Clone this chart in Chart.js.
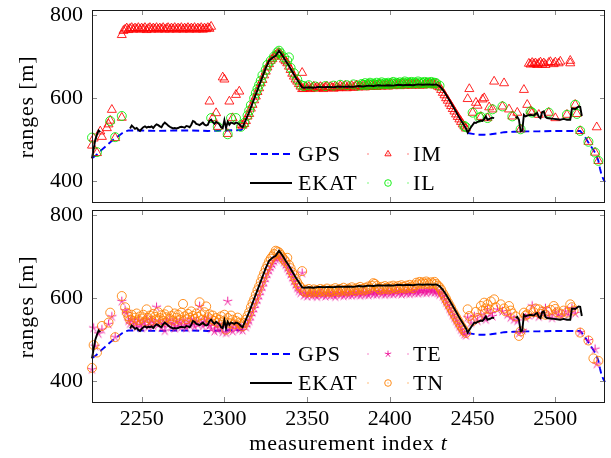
<!DOCTYPE html>
<html><head><meta charset="utf-8">
<script src="https://cdn.jsdelivr.net/npm/chart.js@4.4.0/dist/chart.umd.min.js"></script>
<style>
html,body{margin:0;padding:0;background:#fff;}
#wrap{position:relative;width:611px;height:458px;}
canvas{position:absolute;left:0;top:0;}
#pre{position:absolute;left:0;top:0;font-family:'Liberation Serif';font-size:22px;color:#fff;opacity:0;}
</style></head><body>
<div id="pre">Ab12 <i>t</i></div>
<div id="wrap"><canvas id="c1" width="611" height="458"></canvas><canvas id="c2" width="611" height="458"></canvas></div>
<script>
// ---------------- data ----------------
const xTicks = [2250, 2300, 2350, 2400, 2450, 2500];
const yTicks = [400, 600, 800];
const xMin = 2220, xMax = 2530, yMin = 350, yMax = 812;

const gpsPts = [[2220,455],[2222,461],[2224,468],[2226,476],[2228,483],[2230,490],[2232,497],[2234,503],[2236,509],[2238,515],[2240,520],[2242,522],[2250,522],[2260,521],[2270,522],[2280,522],[2290,521],[2300,522],[2310,523],[2311,526],[2312,null],
[2447,516],[2450,514],[2453,512],[2457,512],[2461,513],[2465,515],[2469,518],[2475,519],[2483,520],[2490,520],[2500,521],[2511,521],[2515,521],[2517,512],[2519,499],[2521,487],[2523,475],[2524,469],[2525,460],[2526,449],[2527,430],[2528,414],[2529,405],[2530,398]];

const ekatPts = [[2220,455],[2221,478],[2222,500],[2223,512],[2224,522],[2225,518],[2226,null],
[2243,527],[2244,534],[2245,530],[2246,526],[2247,528],[2248,524],[2249,521],[2250,526],[2251,530],[2252,532],[2253,529],[2254,531],[2255,530],[2256,532],[2257,528],[2258,533],[2259,537],[2260,535],[2261,532],[2262,530],[2263,537],[2264,541],[2265,538],[2266,534],[2267,531],[2268,529],[2269,527],[2270,528],[2271,527],[2272,528],[2273,530],[2274,531],[2275,530],[2276,529],[2277,533],[2278,532],[2279,530],[2280,536],[2281,545],[2282,543],[2283,538],[2284,537],[2285,535],[2286,538],[2287,541],[2288,536],[2289,534],[2290,536],[2291,545],[2292,548],[2293,542],[2294,538],[2295,543],[2296,540],[2297,537],[2298,530],[2299,528],[2300,547],[2301,528],[2302,543],[2303,536],[2304,541],[2305,540],[2306,538],[2307,541],[2308,540],[2309,537],[2310,533],[2311,530],
[2313,548],[2315,567],[2317,588],[2319,609],[2321,630],[2323,651],[2325,672],[2327,690],[2329,697],[2331,702],[2333,714],[2335,703],[2337,690],[2339,678],[2341,664],[2343,650],[2345,638],[2347,626],
[2348,625],[2351,626],[2354,625],[2357,627],[2360,626],[2363,627],[2366,626],[2369,628],[2372,627],[2375,628],[2378,627],[2381,629],[2384,628],[2387,630],[2390,629],[2393,631],[2396,630],[2399,631],[2402,630],[2405,632],[2408,631],[2411,632],[2414,631],[2417,633],[2420,632],[2423,633],[2426,632],[2428,633],[2430,629],
[2432,620],[2434,608],[2436,595],[2438,581],[2440,567],[2442,553],[2444,540],[2446,527],[2447,517],
[2449,530],[2451,541],[2452,540],[2453,543],[2455,546],[2456,545],[2457,550],[2458,556],[2459,548],[2461,551],[2462,553],[2463,552],[2464,null],
[2476,552],[2477,555],[2478,548],[2479,520],[2480,522],[2481,560],[2482,556],[2483,558],[2485,560],[2487,558],[2488,562],[2489,564],[2490,555],[2491,552],[2492,566],[2493,568],[2494,555],[2495,552],[2497,551],[2499,550],[2501,549],[2503,548],[2505,550],[2507,548],[2509,548],[2510,575],[2512,574],[2514,580],[2515,579],[2516,557]];

const imPts = [[2220,486],[2221,503],[2223,468],[2225,520],[2226,507],[2229,528],[2230,537],[2231,546],[2232,572],[2234,504],[2238,553],
[2238,752],[2239,762],[2240,765],[2241,768],[2242,764],[2243,767],[2244,769],[2245,765],[2246,768],[2247,766],[2248,769],[2249,765],[2250,768],[2251,766],[2252,769],[2253,764],[2254,767],[2255,769],[2256,765],[2257,768],[2258,766],[2259,769],[2260,765],[2261,768],[2262,766],[2263,769],[2264,765],[2265,767],[2266,769],[2267,765],[2268,768],[2269,766],[2270,769],[2271,765],[2272,768],[2273,766],[2274,769],[2275,765],[2276,768],[2277,766],[2278,769],[2279,765],[2280,768],[2281,766],[2282,769],[2283,765],[2284,768],[2285,766],[2286,769],[2287,765],[2288,768],[2289,766],[2290,769],[2291,767],[2292,772],
[2291,592],[2293,552],[2295,564],[2296,531],[2299,650],[2300,645],[2302,514],[2303,592],[2305,552],[2307,608],[2309,616],[2310,535],[2311,534],
[2312,538],[2313,545],[2314,556],[2315,562],[2316,575],[2317,584],[2318,595],[2319,604],[2320,615],[2321,624],[2322,636],[2323,644],[2324,655],[2325,664],[2326,674],[2327,682],[2328,690],[2329,694],[2330,700],[2331,703],[2332,707],[2333,709],[2334,706],[2335,700],[2336,693],[2337,689],[2338,684],[2339,676],[2340,668],[2341,659],[2342,652],[2343,645],[2344,640],[2345,634],
[2346,628],[2347,661],[2347,622],[2348,623],[2349,626],[2350,624],[2351,627],[2352,622],[2353,625],[2354,628],[2355,623],[2356,626],[2357,624],[2358,627],[2359,625],[2360,622],[2361,626],[2362,628],[2363,624],[2364,627],[2365,625],[2366,623],[2367,628],[2368,626],[2369,624],[2370,629],[2371,625],[2372,627],[2373,630],[2374,624],[2375,628],[2376,626],[2377,629],[2378,625],[2379,628],[2380,631],[2381,626],[2382,629],[2383,627],[2384,630],[2385,626],[2386,629],[2387,632],[2388,627],[2389,630],[2390,628],[2391,631],[2392,627],[2393,630],[2394,633],[2395,628],[2396,631],[2397,629],[2398,632],[2399,628],[2400,631],[2401,634],[2402,629],[2403,632],[2404,630],[2405,633],[2406,629],[2407,632],[2408,635],[2409,630],[2410,633],[2411,631],[2412,634],[2413,630],[2414,633],[2415,631],[2416,634],[2417,632],[2418,630],[2419,634],[2420,631],[2421,633],[2422,636],[2423,631],[2424,634],[2425,632],[2426,635],[2427,631],[2428,633],[2429,628],
[2430,626],[2431,620],[2432,613],[2433,607],[2434,600],[2435,594],[2436,587],[2437,581],[2438,574],[2439,568],[2440,561],[2441,555],[2442,549],[2443,543],[2444,537],[2445,532],[2446,527],
[2447,598],[2448,622],[2450,565],[2452,589],[2453,582],[2455,555],[2456,597],[2457,600],[2459,552],[2460,578],[2462,573],[2463,640],[2468,580],[2469,636],[2472,573],[2474,556],[2477,565],[2479,525],[2481,620],[2483,584],[2485,568],[2486,565],[2490,560],[2496,565],[2500,552],[2507,560],[2512,584],[2513,562],[2515,521],[2520,495],[2524,469],[2525,530],[2526,449],
[2484,683],[2485,681],[2486,685],[2487,682],[2488,684],[2489,680],[2490,683],[2491,686],[2492,681],[2493,684],[2494,680],[2496,685],[2497,687],[2499,682],[2500,686],[2502,684],[2503,688],[2509,690],[2509,684]];

const ilPts = [[2220,505],[2223,470],[2231,545],[2234,506],[2238,557],
[2292,552],[2296,531],[2302,513],[2304,552],[2307,552],[2310,531],
[2312,540],[2314,558],[2315,570],[2316,583],[2318,600],[2319,612],[2320,622],[2321,632],[2322,642],[2323,655],[2325,668],[2326,680],[2328,690],[2330,700],[2332,710],[2333,714],[2334,708],[2336,698],[2338,690],[2339,698],[2340,673],[2342,660],[2344,645],[2346,632],
[2348,629],[2351,631],[2355,628],[2361,629],[2366,630],[2370,632],[2374,631],[2378,633],[2381,630],[2383,634],[2384,632],[2385,636],[2386,631],[2387,634],[2388,637],[2389,632],[2390,635],[2391,633],[2392,637],[2393,632],[2394,635],[2395,638],[2396,633],[2397,636],[2398,634],[2399,637],[2400,633],[2401,636],[2402,639],[2403,634],[2404,637],[2405,635],[2406,638],[2407,634],[2408,637],[2409,640],[2410,635],[2411,638],[2412,636],[2413,639],[2414,635],[2415,638],[2416,636],[2417,640],[2418,635],[2419,638],[2420,636],[2421,639],[2422,635],[2423,638],[2424,636],[2425,639],[2426,635],[2427,637],[2428,636],
[2430,630],[2445,533],
[2446,530],[2450,565],[2454,553],[2455,555],[2459,552],[2462,573],[2468,580],[2474,556],[2479,525],[2485,568],[2486,565],[2496,565],[2507,560],[2512,584],[2513,562],[2515,521],[2520,495],[2524,469],[2526,449]];

const tePts = [[2220,428],[2221,528],[2222,484],[2224,514],[2226,524],[2230,537],[2232,555],[2234,506],[2238,592],
[2240,570],[2241,563],[2242,545],[2243,538],[2244,548],[2245,533],[2246,541],[2247,530],[2248,546],[2249,536],[2250,528],[2251,543],[2252,534],[2253,549],[2254,531],[2255,540],[2256,546],[2257,533],[2258,541],[2259,578],[2260,536],[2261,545],[2262,529],[2263,538],[2264,521],[2265,543],[2266,535],[2267,548],[2268,530],[2269,539],[2270,527],[2271,544],[2272,533],[2273,541],[2274,530],[2275,547],[2276,536],[2277,528],[2278,543],[2279,535],[2280,549],[2281,538],[2282,531],[2283,545],[2284,536],[2285,580],[2286,541],[2287,532],[2288,547],[2289,539],[2290,552],[2291,534],[2292,526],[2293,540],[2294,520],[2295,532],[2296,523],[2297,538],[2298,528],[2299,518],[2300,535],[2301,516],[2302,592],[2303,525],[2304,531],[2305,520],[2306,536],[2307,527],[2308,533],[2309,524],[2310,529],[2311,522],
[2313,530],[2314,538],[2315,545],[2316,556],[2317,565],[2318,575],[2319,586],[2320,596],[2321,606],[2322,617],[2323,627],[2324,638],[2325,648],[2326,658],[2327,666],[2328,674],[2329,681],[2330,688],[2331,694],[2332,698],[2333,700],[2334,697],[2335,692],[2336,686],[2337,680],[2338,672],[2339,665],[2340,657],[2341,649],[2342,640],[2343,632],[2344,624],[2345,617],[2346,612],[2347,660],
[2348,606],[2349,610],[2350,604],[2351,609],[2352,612],[2353,605],[2354,610],[2355,607],[2356,603],[2357,609],[2358,612],[2359,606],[2360,610],[2361,604],[2362,608],[2363,612],[2364,606],[2365,610],[2366,607],[2367,603],[2368,609],[2369,613],[2370,607],[2371,611],[2372,605],[2373,609],[2374,613],[2375,607],[2376,611],[2377,606],[2378,610],[2379,614],[2380,608],[2381,612],[2382,606],[2383,610],[2384,614],[2385,608],[2386,612],[2387,607],[2388,611],[2389,615],[2390,609],[2391,613],[2392,608],[2393,612],[2394,616],[2395,610],[2396,614],[2397,608],[2398,612],[2399,616],[2400,610],[2401,614],[2402,609],[2403,613],[2404,617],[2405,611],[2406,615],[2407,609],[2408,613],[2409,617],[2410,611],[2411,615],[2412,610],[2413,614],[2414,618],[2415,612],[2416,616],[2417,611],[2418,615],[2419,619],[2420,613],[2421,617],[2422,612],[2423,616],[2424,620],[2425,614],[2426,618],[2427,613],[2428,617],[2429,612],[2430,608],
[2431,612],[2432,604],[2433,597],[2434,589],[2435,582],[2436,574],[2437,567],[2438,559],[2439,552],[2440,545],[2441,538],[2442,531],[2443,524],[2444,518],[2445,513],[2446,510],
[2447,553],[2449,540],[2451,556],[2453,545],[2455,560],[2457,553],[2458,548],[2459,570],[2461,563],[2462,556],[2465,572],[2468,568],[2471,560],[2473,553],[2475,548],[2477,545],[2478,515],[2480,522],[2482,552],[2484,558],[2486,581],[2488,560],[2490,555],[2492,563],[2494,575],[2496,558],[2498,552],[2500,566],[2502,560],[2504,556],[2506,568],[2508,560],[2510,575],[2512,563],[2515,517],[2520,498],[2524,477],[2525,441]];

const tnPts = [[2220,432],[2221,487],[2223,469],[2226,533],[2230,541],[2231,565],[2234,506],[2238,605],[2240,578],[2241,565],
[2242,556],[2243,548],[2244,560],[2245,545],[2246,553],[2247,563],[2248,547],[2249,556],[2250,551],[2251,560],[2252,544],[2253,573],[2254,552],[2255,558],[2256,546],[2257,562],[2258,555],[2259,549],[2260,566],[2261,552],[2262,559],[2263,545],[2264,561],[2265,554],[2266,570],[2267,550],[2268,557],[2269,546],[2270,563],[2271,553],[2272,560],[2273,548],[2274,565],[2275,586],[2276,556],[2277,549],[2278,562],[2279,553],[2280,568],[2281,557],[2282,550],[2283,563],[2284,555],[2285,590],[2286,559],[2287,548],[2288,566],[2289,580],[2290,554],[2291,561],[2292,549],[2293,558],[2294,545],[2295,552],[2296,541],[2297,548],[2298,556],[2299,544],[2300,560],[2301,524],[2302,552],[2303,540],[2304,558],[2305,548],[2306,537],[2307,545],[2308,553],[2309,541],[2310,538],[2311,532],
[2312,540],[2313,548],[2314,557],[2315,566],[2316,578],[2317,588],[2318,597],[2319,608],[2320,619],[2321,628],[2322,639],[2323,650],[2324,660],[2325,670],[2326,679],[2327,688],[2328,695],[2329,700],[2330,706],[2331,714],[2332,712],[2333,710],[2334,704],[2335,698],[2336,693],[2337,688],[2338,697],[2339,680],[2340,672],[2341,662],[2342,655],[2343,646],[2344,638],[2345,631],[2346,626],[2347,665],
[2348,616],[2349,620],[2350,614],[2351,622],[2352,617],[2353,613],[2354,621],[2355,616],[2356,619],[2357,614],[2358,622],[2359,617],[2360,620],[2361,615],[2362,623],[2363,618],[2364,614],[2365,621],[2366,617],[2367,624],[2368,619],[2369,615],[2370,622],[2371,618],[2372,625],[2373,620],[2374,616],[2375,623],[2376,619],[2377,626],[2378,621],[2379,617],[2380,624],[2381,620],[2382,627],[2383,622],[2384,618],[2385,625],[2386,621],[2387,628],[2388,623],[2389,630],[2390,636],[2391,634],[2392,629],[2393,624],[2394,620],[2395,627],[2396,622],[2397,629],[2398,625],[2399,621],[2400,628],[2401,623],[2402,630],[2403,626],[2404,622],[2405,629],[2406,624],[2407,631],[2408,627],[2409,623],[2410,630],[2411,625],[2412,632],[2413,628],[2414,624],[2415,631],[2416,637],[2417,633],[2418,639],[2419,635],[2420,638],[2421,634],[2422,640],[2423,636],[2424,633],[2425,638],[2426,635],[2427,639],[2428,634],[2429,630],[2430,626],
[2431,620],[2432,612],[2433,605],[2434,598],[2435,590],[2436,583],[2437,576],[2438,568],[2439,561],[2440,554],[2441,547],[2442,540],[2443,533],[2444,527],[2445,521],[2446,516],
[2447,573],[2448,557],[2450,545],[2452,567],[2453,552],[2455,581],[2456,570],[2457,589],[2458,575],[2459,585],[2460,573],[2461,592],[2463,597],[2464,578],[2467,585],[2469,575],[2470,568],[2472,581],[2473,570],[2474,563],[2476,556],[2478,509],[2479,520],[2481,565],[2482,558],[2483,561],[2485,572],[2487,566],[2488,575],[2490,573],[2491,562],[2492,568],[2494,560],[2495,569],[2497,572],[2499,581],[2500,574],[2501,566],[2503,563],[2505,570],[2507,565],[2509,585],[2510,578],[2511,570],[2515,517],[2520,498],[2523,455],[2526,449]];

// ---------------- rendering ----------------
const FONT = '"Liberation Serif", "Times New Roman", serif';
const FSIZE = 22;
const COL = {gps:'#0000ff', ekat:'#000000', im:'#ff0000', il:'#00ee00', te:'#ee1199', tn:'#ff8000'};

function toXY(a){ return a.map(p => ({x:p[0], y:p[1]})); }

function starImg(color, r){
  const s = Math.ceil(2*r+3), c = document.createElement('canvas');
  c.width = c.height = s;
  const g = c.getContext('2d'); g.strokeStyle = color; g.lineWidth = 0.9;
  g.beginPath();
  for (let k=0;k<5;k++){ const a=-Math.PI/2+k*2*Math.PI/5; g.moveTo(s/2,s/2); g.lineTo(s/2+r*Math.cos(a), s/2+r*Math.sin(a)); }
  g.stroke(); return c;
}

function lineDs(label, pts, color, w, dash){
  return {label, data:toXY(pts), showLine:true, spanGaps:false, borderColor:color, borderWidth:w, borderDash:dash||[], pointRadius:0, fill:false, clip:false};
}
function markDs(label, pts, color, style, r){
  return {label, data:toXY(pts), showLine:false, pointStyle:style, pointRadius:r, borderColor:color, backgroundColor:'rgba(0,0,0,0)', pointBorderWidth:0.85, borderWidth:0.85, clip:false};
}

function build(){
const starData = starImg(COL.te, 4.8), starLeg = starImg(COL.te, 3.4);

function drawMarker(ctx, style, x, y, color){
  ctx.save(); ctx.strokeStyle=color; ctx.lineWidth=0.9;
  if (style==='triangle'){ const r=3.6; ctx.beginPath(); ctx.moveTo(x, y-r); ctx.lineTo(x+r*0.866, y+r*0.5); ctx.lineTo(x-r*0.866, y+r*0.5); ctx.closePath(); ctx.stroke(); }
  else if (style==='circle'){ ctx.beginPath(); ctx.arc(x,y,3.3,0,Math.PI*2); ctx.stroke(); }
  else if (style==='star'){ ctx.drawImage(starLeg, x-starLeg.width/2, y-starLeg.height/2); }
  ctx.fillStyle=color;
  [x-20, x, x+20].forEach(px => ctx.fillRect(px-0.5, y-0.5, 1, 1));
  ctx.restore();
}

const framePlugin = {
  id:'frame',
  afterDatasetsDraw(chart, args, opts){
    const {ctx, chartArea:a, scales} = chart;
    ctx.save();
    ctx.strokeStyle = '#8a8a8a'; ctx.lineWidth = 1;
    ctx.beginPath();
    xTicks.forEach(v => { const x = Math.round(scales.x.getPixelForValue(v))+0.5; ctx.moveTo(x,a.top); ctx.lineTo(x,a.top+5); ctx.moveTo(x,a.bottom); ctx.lineTo(x,a.bottom-5); });
    yTicks.forEach(v => { const y = Math.round(scales.y.getPixelForValue(v))+0.5; ctx.moveTo(a.left,y); ctx.lineTo(a.left+5,y); ctx.moveTo(a.right,y); ctx.lineTo(a.right-5,y); });
    ctx.stroke();
    ctx.strokeStyle = '#1a1a1a'; ctx.lineWidth = 1;
    ctx.strokeRect(Math.round(a.left)+0.5, Math.round(a.top)+0.5, Math.round(a.right-a.left)-1, Math.round(a.bottom-a.top));
    ctx.font = FSIZE+'px '+FONT; ctx.fillStyle='#000'; ctx.textBaseline='alphabetic'; ctx.textAlign='left';
    try { ctx.letterSpacing = '0.8px'; } catch(e){}
    const L = opts.legend;
    L.rows.forEach((row, i) => {
      const y = a.top + L.rowY[i];
      ctx.save(); ctx.strokeStyle=row.lc; ctx.lineWidth=1.8; ctx.setLineDash(row.ldash||[]);
      ctx.beginPath(); ctx.moveTo(L.lineX0, y); ctx.lineTo(L.lineX1, y); ctx.stroke(); ctx.restore();
      ctx.fillText(row.lt, L.textX1, y+7);
      drawMarker(ctx, row.ms, L.markX, y, row.mc);
      ctx.fillStyle='#000';
      ctx.fillText(row.mt, L.textX2, y+7);
    });
    ctx.save();
    ctx.translate(33, (a.top+a.bottom)/2+1); ctx.rotate(-Math.PI/2);
    ctx.textAlign='center'; ctx.fillText(opts.yTitle, 0, 0);
    ctx.restore();
    if (opts.xTitle){
      const t1 = opts.xTitle, t2 = 't';
      ctx.font = FSIZE+'px '+FONT; const w1 = ctx.measureText(t1).width;
      ctx.font = 'italic '+FSIZE+'px '+FONT; const w2 = ctx.measureText(t2).width;
      const x0 = (a.left+a.right)/2 - (w1+w2)/2;
      ctx.font = FSIZE+'px '+FONT; ctx.fillText(t1, x0, 450);
      ctx.font = 'italic '+FSIZE+'px '+FONT; ctx.fillText(t2, x0+w1, 450);
    }
    ctx.restore();
  }
};

function makeChart(id, datasets, padding, showX, frameOpts){
  return new Chart(document.getElementById(id), {
    type:'scatter',
    data:{datasets},
    options:{
      responsive:false, animation:false, events:[],
      layout:{padding, autoPadding:false},
      plugins:{legend:{display:false}, tooltip:{enabled:false}, frame:frameOpts},
      scales:{
        x:{type:'linear', min:xMin, max:xMax, display:showX,
           grid:{display:false, drawTicks:false}, border:{display:false},
           ticks:{font:{family:FONT, size:FSIZE}, color:'#000', padding:4, maxRotation:0, callback:v=>String(v)},
           afterBuildTicks:s=>{ s.ticks = xTicks.map(v=>({value:v})); },
           afterFit:s=>{ if (showX){ s.height = 56; } s.paddingLeft=0; s.paddingRight=0; s.paddingTop=0; s.paddingBottom=0; }
        },
        y:{type:'linear', min:yMin, max:yMax,
           grid:{display:false, drawTicks:false}, border:{display:false},
           ticks:{font:{family:FONT, size:FSIZE}, color:'#000', padding:9, callback:v=>String(v)},
           afterBuildTicks:s=>{ s.ticks = yTicks.map(v=>({value:v})); },
           afterFit:s=>{ s.width = 92; s.paddingLeft=0; s.paddingRight=0; s.paddingTop=0; s.paddingBottom=0; }
        }
      }
    },
    plugins:[framePlugin]
  });
}

const legendBase = {lineX0:250, lineX1:292, textX1:298, markX:388, textX2:413, rowY:[144, 173]};

makeChart('c1', [
  lineDs('EKAT', ekatPts, COL.ekat, 1.9),
  markDs('IL', ilPts, COL.il, 'circle', 4.5),
  markDs('IM', imPts, COL.im, 'triangle', 5.2),
  lineDs('GPS', gpsPts, COL.gps, 1.9, [7,4])
], {top:10, right:6, bottom:256, left:0}, false, {
  yTitle:'ranges [m]', xTitle:null,
  legend:Object.assign({}, legendBase, {rows:[
    {lt:'GPS', lc:COL.gps, ldash:[7,4], mt:'IM', ms:'triangle', mc:COL.im},
    {lt:'EKAT', lc:COL.ekat, mt:'IL', ms:'circle', mc:COL.il}
  ]})
});

makeChart('c2', [
  lineDs('EKAT', ekatPts, COL.ekat, 1.9),
  markDs('TN', tnPts, COL.tn, 'circle', 4.5),
  markDs('TE', tePts, COL.te, starData, 4.8),
  lineDs('GPS', gpsPts, COL.gps, 1.9, [7,4])
], {top:210, right:6, bottom:0, left:0}, true, {
  yTitle:'ranges [m]', xTitle:'measurement index ',
  legend:Object.assign({}, legendBase, {rows:[
    {lt:'GPS', lc:COL.gps, ldash:[7,4], mt:'TE', ms:'star', mc:COL.te},
    {lt:'EKAT', lc:COL.ekat, mt:'TN', ms:'circle', mc:COL.tn}
  ]})
});
}

let built = false;
function go(){ if (!built){ built = true; build(); } }
Promise.all([
  document.fonts.load('22px "Liberation Serif"'),
  document.fonts.load('italic 22px "Liberation Serif"')
]).then(go, go);
setTimeout(go, 1500);
</script>
</body></html>
